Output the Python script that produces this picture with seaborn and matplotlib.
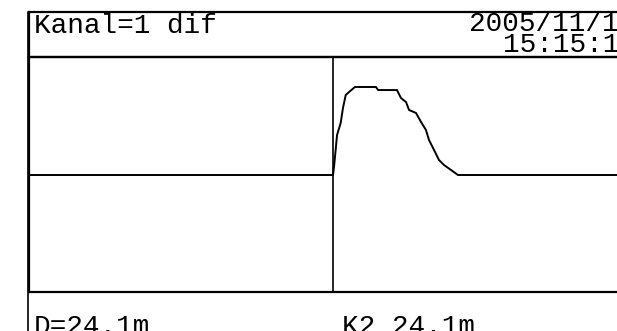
import numpy as np
import pandas as pd
import matplotlib
matplotlib.use("Agg")
import matplotlib.pyplot as plt
import seaborn as sns

# ---- data (distance in m, normalised amplitude) ----
distance_m = [0.0, 24.10, 24.18, 24.31, 24.42, 24.71, 24.89, 25.11, 25.37, 25.84,
              27.51, 27.67, 29.17, 29.49, 29.89, 30.13, 30.68, 31.08, 31.47,
              31.71, 32.11, 32.50, 32.90, 33.45, 34.01, 49.0]
amplitude = [0.0, 0.0, 0.068, 0.213, 0.340, 0.443, 0.570, 0.681, 0.706, 0.749,
             0.749, 0.723, 0.723, 0.655, 0.621, 0.553, 0.528, 0.451, 0.383,
             0.298, 0.213, 0.128, 0.085, 0.043, 0.0, 0.0]
cursor_m = 24.1
header_left = "Kanal=1 dif"
header_date = "2005/11/1"
header_time = "15:15:1"
footer_left = "D=24.1m"
footer_cursor = "K2 24.1m"

sns.set_style("white")
plt.rcParams["font.family"] = ["Liberation Mono", "DejaVu Sans Mono"]

W, H = 617, 331
fig = plt.figure(figsize=(W / 100, H / 100), dpi=100)

def fx(px):
    return px / W

def fy(py):
    return 1 - py / H

# main plot axes: x from px 29 to beyond right edge, y from 57 to 292
left_px, right_px, top_px, bot_px = 29, 650, 57, 292
ax = fig.add_axes([fx(left_px), fy(bot_px), fx(right_px - left_px), (bot_px - top_px) / H])
px_per_m = 12.614
px_per_unit = 117.5
ax.set_xlim(0, (right_px - left_px) / px_per_m)
ax.set_ylim(-(bot_px - 175) / px_per_unit, (175 - top_px) / px_per_unit)

df = pd.DataFrame({"distance": distance_m, "amplitude": amplitude})
sns.lineplot(data=df, x="distance", y="amplitude", ax=ax, color="black",
             linewidth=1.4, sort=False, estimator=None)
ax.axvline(cursor_m, color="black", linewidth=1.2)

ax.set_xticks([])
ax.set_yticks([])
ax.set_xlabel("")
ax.set_ylabel("")
for s in ["left", "top", "bottom"]:
    ax.spines[s].set_color("black")
    ax.spines[s].set_linewidth(1.6)
ax.spines["right"].set_visible(False)

# header box
hax = fig.add_axes([fx(left_px), fy(top_px), fx(right_px - left_px), (top_px - 12) / H])
hax.set_xticks([])
hax.set_yticks([])
hax.set_facecolor("none")
for s in ["left", "top", "bottom"]:
    hax.spines[s].set_color("black")
    hax.spines[s].set_linewidth(1.6)
hax.spines["right"].set_visible(False)

# extra thickness on the left edge
fig.add_artist(plt.Line2D([fx(28), fx(28)], [fy(12), fy(331)], color="black", linewidth=1.2))

fs = 20
fig.text(fx(34), fy(33), header_left, fontsize=fs, va="baseline", ha="left", color="black")
fig.text(fx(619), fy(31), header_date, fontsize=fs, va="baseline", ha="right", color="black")
fig.text(fx(619), fy(52), header_time, fontsize=fs, va="baseline", ha="right", color="black")
fig.text(fx(34), fy(334), footer_left, fontsize=fs, va="baseline", ha="left", color="black")
fig.text(fx(342), fy(334), footer_cursor, fontsize=fs, va="baseline", ha="left", color="black")

fig.savefig("out.png", dpi=100)
